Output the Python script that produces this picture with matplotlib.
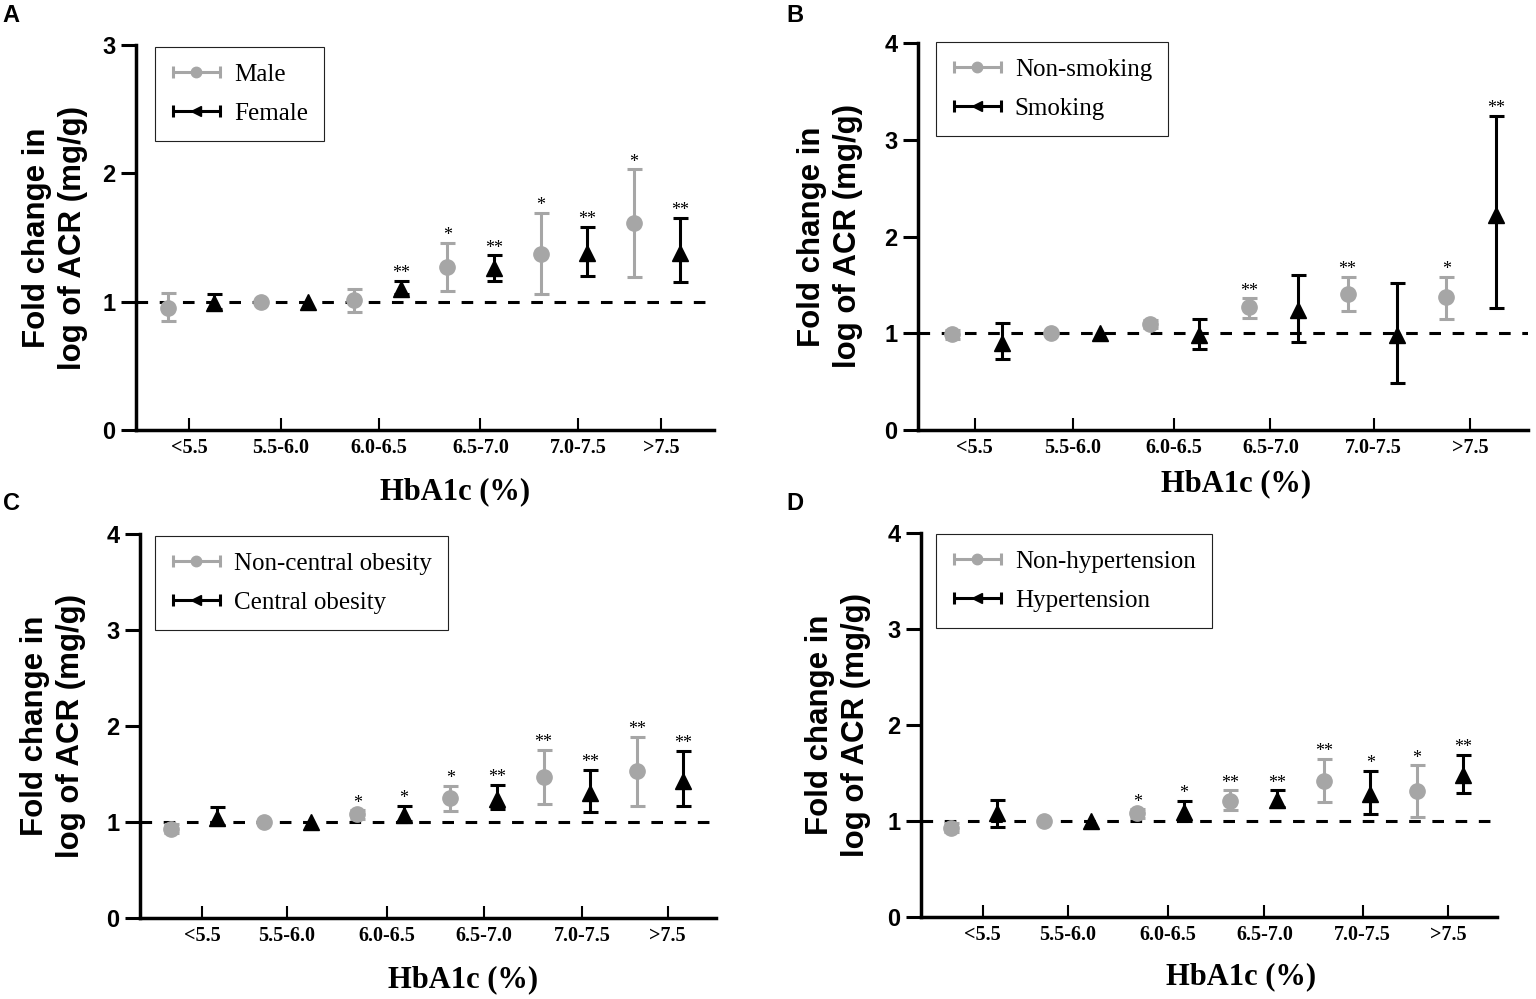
import numpy as np
import matplotlib
matplotlib.use("Agg")
import matplotlib.pyplot as plt
from matplotlib.lines import Line2D
from matplotlib.collections import LineCollection
from matplotlib.container import ErrorbarContainer
from matplotlib.legend_handler import HandlerErrorbar

nan = np.nan
groups = ['<5.5', '5.5-6.0', '6.0-6.5', '6.5-7.0', '7.0-7.5', '>7.5']

# A - sex
a_names = ['Male', 'Female']
a_gray = [0.95, 1.00, 1.01, 1.27, 1.37, 1.61]
a_gray_lo = [0.85, nan, 0.92, 1.08, 1.06, 1.19]
a_gray_hi = [1.07, nan, 1.10, 1.46, 1.69, 2.03]
a_gray_sig = ['', '', '', '*', '*', '*']
a_black = [0.99, 1.00, 1.10, 1.26, 1.38, 1.38]
a_black_lo = [0.94, nan, 1.06, 1.16, 1.20, 1.15]
a_black_hi = [1.06, nan, 1.16, 1.36, 1.58, 1.65]
a_black_sig = ['', '', '**', '**', '**', '**']

# B - smoking
b_names = ['Non-smoking', 'Smoking']
b_gray = [0.99, 1.00, 1.10, 1.27, 1.41, 1.37]
b_gray_lo = [0.945, nan, 1.05, 1.16, 1.23, 1.15]
b_gray_hi = [1.035, nan, 1.14, 1.36, 1.58, 1.58]
b_gray_sig = ['', '', '', '**', '**', '*']
b_black = [0.90, 1.00, 0.98, 1.24, 0.98, 2.22]
b_black_lo = [0.73, nan, 0.84, 0.91, 0.49, 1.26]
b_black_hi = [1.11, nan, 1.15, 1.60, 1.52, 3.25]
b_black_sig = ['', '', '', '', '', '**']

# C - central obesity
c_names = ['Non-central obesity', 'Central obesity']
c_gray = [0.93, 1.00, 1.08, 1.25, 1.47, 1.53]
c_gray_lo = [0.885, nan, 1.03, 1.11, 1.19, 1.17]
c_gray_hi = [0.975, nan, 1.12, 1.38, 1.75, 1.89]
c_gray_sig = ['', '', '*', '*', '**', '**']
c_black = [1.04, 1.00, 1.07, 1.24, 1.30, 1.43]
c_black_lo = [0.97, nan, 1.01, 1.14, 1.10, 1.17]
c_black_hi = [1.16, nan, 1.17, 1.39, 1.54, 1.74]
c_black_sig = ['', '', '*', '**', '**', '**']

# D - hypertension
d_names = ['Non-hypertension', 'Hypertension']
d_gray = [0.93, 1.00, 1.08, 1.21, 1.42, 1.31]
d_gray_lo = [0.885, nan, 1.035, 1.11, 1.20, 1.04]
d_gray_hi = [0.975, nan, 1.12, 1.32, 1.65, 1.58]
d_gray_sig = ['', '', '*', '**', '**', '*']
d_black = [1.08, 1.00, 1.09, 1.22, 1.28, 1.48]
d_black_lo = [0.94, nan, 1.00, 1.15, 1.07, 1.29]
d_black_hi = [1.22, nan, 1.21, 1.32, 1.52, 1.69]
d_black_sig = ['', '', '*', '**', '*', '**']

GRAY = '#a6a6a6'
SANS = 'Liberation Sans'
SERIF = 'Liberation Serif'
W, H = 1536, 999

fig = plt.figure(figsize=(W / 100, H / 100), dpi=100)


def px_axes(left, right, top, bottom):
    return fig.add_axes([left / W, 1 - bottom / H, (right - left) / W, (bottom - top) / H])


def legend_handle(color, marker, ms, label):
    dot = Line2D([], [], color=color, marker=marker, ms=ms, ls='none')
    cap = Line2D([], [], color=color, marker='|', ms=8, mew=2.2)
    bar = LineCollection([], colors=color, linewidths=2.2)
    return ErrorbarContainer((dot, (cap,), (bar,)), has_xerr=True, has_yerr=False, label=label)


def panel(ax, gray, gray_lo, gray_hi, gray_sig, black, black_lo, black_hi, black_sig,
          names, ymax, xlim, ticks, leg_xy):
    ax.axhline(1, color='k', lw=2.2, ls=(0, (3.8, 3.8)), zorder=1)
    series = [(gray, gray_lo, gray_hi, gray_sig, GRAY, 'o', 0),
              (black, black_lo, black_hi, black_sig, 'k', '^', 1)]
    for vals, lo, hi, sig, col, mk, off in series:
        v = np.array(vals)
        x = np.arange(len(v)) * 2 + off
        err = np.vstack([v - np.array(lo), np.array(hi) - v])
        ax.errorbar(x, v, yerr=err, fmt=mk, color=col, ms=11, elinewidth=2.2,
                    capsize=5.4, capthick=2.2, zorder=3)
        for xi, top, s in zip(x, hi, sig):
            if s:
                ax.annotate(s, (xi, top), xytext=(0, 2), textcoords='offset points',
                            ha='center', va='baseline', fontsize=13, family=SERIF)

    ax.set_xlim(*xlim)
    ax.set_ylim(0, ymax)
    ax.set_yticks(range(ymax + 1))
    ax.set_xticks(ticks)
    ax.set_xticklabels(groups, family=SERIF, fontweight='bold', fontsize=14.5)
    for lab in ax.get_yticklabels():
        lab.set_family(SANS)
        lab.set_fontweight('bold')
        lab.set_fontsize(17)
    ax.tick_params(axis='y', direction='out', length=10.8, width=2.2, pad=4)
    ax.tick_params(axis='x', direction='in', length=8.6, width=1.5, pad=6)
    for side in ['top', 'right']:
        ax.spines[side].set_visible(False)
    for side in ['left', 'bottom']:
        ax.spines[side].set_linewidth(2.5)
    ax.patch.set_alpha(0)

    handles = [legend_handle(GRAY, 'o', 7.5, names[0]), legend_handle('k', '<', 7, names[1])]
    leg = ax.legend(handles=handles, loc='upper left',
                    bbox_to_anchor=(leg_xy[0] / W, 1 - leg_xy[1] / H),
                    bbox_transform=fig.transFigure, borderaxespad=0,
                    prop={'family': SERIF, 'size': 18}, handlelength=2.0,
                    handletextpad=0.5, borderpad=0.65, labelspacing=0.65,
                    fancybox=False, framealpha=1, edgecolor='#222222',
                    handler_map={ErrorbarContainer: HandlerErrorbar(xerr_size=0.95)})
    leg.get_frame().set_linewidth(0.8)


ylab = 'Fold change in\nlog of ACR (mg/g)'
layout = [
    # letter, axes box (l, r, t, b), xlim, ticks, legend corner, ylabel x, xlabel xy, letter xy, ymax
    ('A', (136, 714, 45, 430), (-0.68, 11.72), [0.46, 2.42, 4.53, 6.71, 8.80, 10.58],
     (155, 47), 55, (455, 492), (11, 16), 3),
    ('B', (918, 1528, 43, 430), (-0.69, 11.65), [0.46, 2.44, 4.49, 6.44, 8.53, 10.48],
     (936, 42), 830, (1236, 484), (795, 15), 4),
    ('C', (140, 716, 534, 918), (-0.66, 11.70), [0.68, 2.49, 4.64, 6.72, 8.83, 10.66],
     (155, 536), 53, (463, 980), (11, 503), 4),
    ('D', (921, 1497, 533, 917), (-0.64, 11.72), [0.68, 2.51, 4.66, 6.73, 8.84, 10.67],
     (936, 534), 838, (1241, 977), (795, 503), 4),
]
data = [
    (a_gray, a_gray_lo, a_gray_hi, a_gray_sig, a_black, a_black_lo, a_black_hi, a_black_sig, a_names),
    (b_gray, b_gray_lo, b_gray_hi, b_gray_sig, b_black, b_black_lo, b_black_hi, b_black_sig, b_names),
    (c_gray, c_gray_lo, c_gray_hi, c_gray_sig, c_black, c_black_lo, c_black_hi, c_black_sig, c_names),
    (d_gray, d_gray_lo, d_gray_hi, d_gray_sig, d_black, d_black_lo, d_black_hi, d_black_sig, d_names),
]

for (letter, box, xlim, ticks, leg_xy, ylx, xlxy, lxy, ymax), d in zip(layout, data):
    ax = px_axes(*box)
    panel(ax, *d, ymax=ymax, xlim=xlim, ticks=ticks, leg_xy=leg_xy)
    cy = (box[2] + box[3]) / 2
    fig.text(ylx / W, 1 - cy / H, ylab, rotation=90, ha='center', va='center',
             ma='center', family=SANS, fontweight='bold', fontsize=22.5, linespacing=1.3)
    fig.text(xlxy[0] / W, 1 - xlxy[1] / H, 'HbA1c (%)', ha='center', va='center',
             family=SERIF, fontweight='bold', fontsize=22)
    fig.text(lxy[0] / W, 1 - lxy[1] / H, letter, ha='center', va='center',
             family=SANS, fontweight='bold', fontsize=17)

fig.savefig('out.png', dpi=100)
